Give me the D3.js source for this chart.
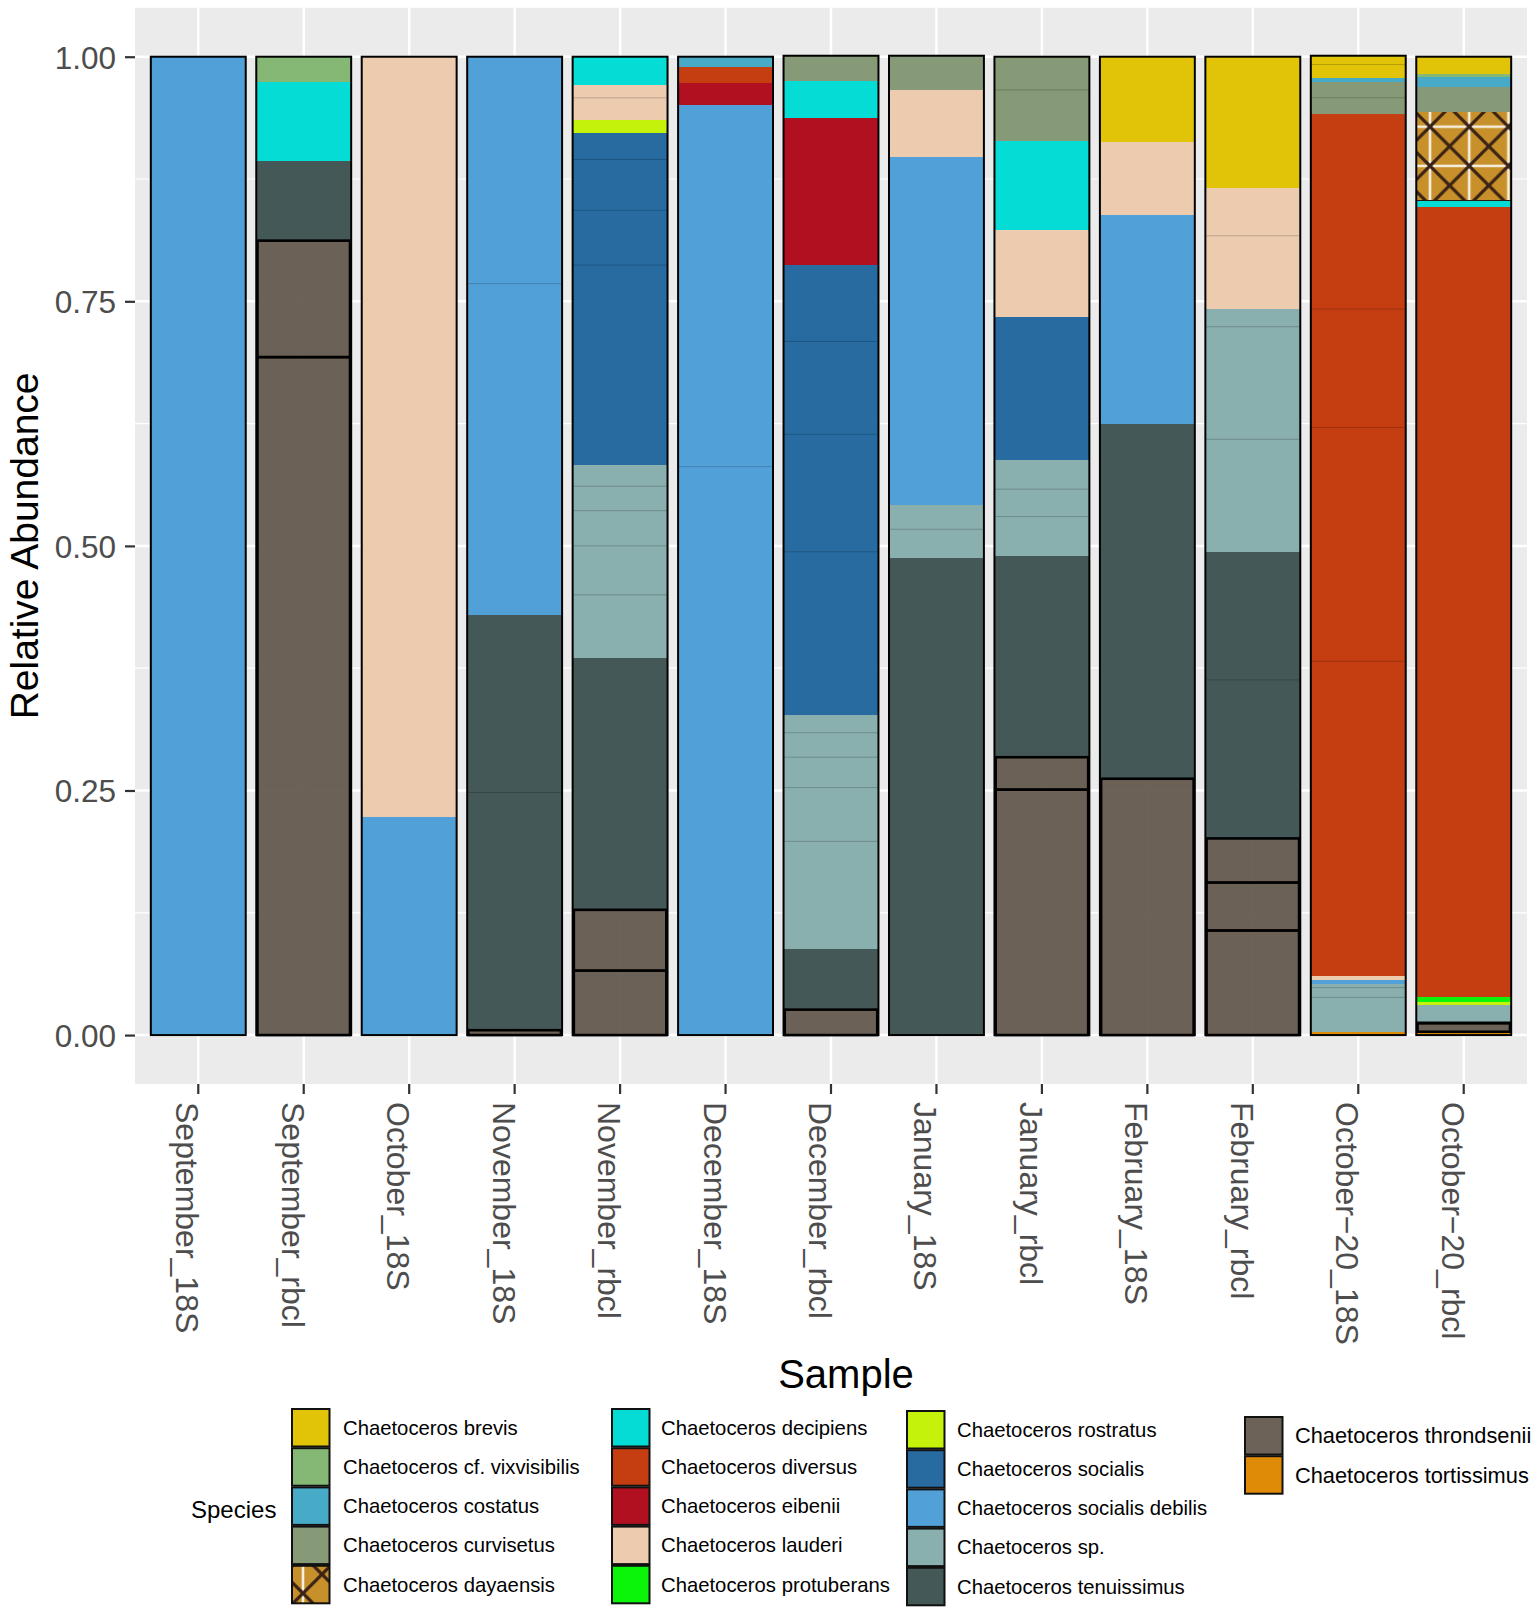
<!DOCTYPE html>
<html lang="en">
<head>
<meta charset="UTF-8">
<title>Chaetoceros relative abundance</title>
<script src="https://d3js.org/d3.v7.min.js"></script>
<style>
  body { margin: 0; background: #fff; }
  svg text { font-family: "Liberation Sans", Arial, sans-serif; }
</style>
</head>
<body>
<div id="chart"></div>
<script>
const samples = ["September_18S", "September_rbcl", "October_18S", "November_18S", "November_rbcl",
  "December_18S", "December_rbcl", "January_18S", "January_rbcl", "February_18S", "February_rbcl",
  "October\u221220_18S", "October\u221220_rbcl"];

const speciesNames = ["Chaetoceros brevis", "Chaetoceros cf. vixvisibilis", "Chaetoceros costatus",
  "Chaetoceros curvisetus", "Chaetoceros dayaensis", "Chaetoceros decipiens", "Chaetoceros diversus",
  "Chaetoceros eibenii", "Chaetoceros lauderi", "Chaetoceros protuberans", "Chaetoceros rostratus",
  "Chaetoceros socialis", "Chaetoceros socialis debilis", "Chaetoceros sp.", "Chaetoceros tenuissimus",
  "Chaetoceros throndsenii", "Chaetoceros tortissimus"];

const speciesColors = ["#E1C408", "#86B875", "#47AAC6", "#869A78", "#C8902B", "#05DCD6", "#C53E12",
  "#B11021", "#ECCBAF", "#0BF50B", "#C5F20A", "#276BA1", "#52A0D8", "#89AFAE", "#445857",
  "#615549", "#E08B08"];

const yTicks = [0, 0.25, 0.5, 0.75, 1];
const yMinor = [0.125, 0.375, 0.625, 0.875];

// relative abundance per sample (same order as samples); lists hold the ASV pieces, top to bottom
const brevis       = [0, 0, 0, 0, 0, 0, 0, 0, 0, 0.087, 0.134, [0.009, 0.014], 0.018];
const vixvisibilis = [0, 0.026, 0, 0, 0, 0, 0, 0, 0, 0, 0, 0, 0.003];
const costatus     = [0, 0, 0, 0, 0, 0.010, 0, 0, 0, 0, 0, 0.004, 0.010];
const curvisetus   = [0, 0, 0, 0, 0, 0, 0.026, 0.035, [0.034, 0.052], 0, 0, [0.016, 0.017], 0.025];
const dayaensis    = [0, 0, 0, 0, 0, 0, 0, 0, 0, 0, 0, 0, 0.091];
const decipiens    = [0, 0.081, 0, 0, 0.029, 0, 0.038, 0, 0.091, 0, 0, 0, 0.007];
const diversus     = [0, 0, 0, 0, 0, 0.017, 0, 0, 0, 0, 0, [0.199, 0.121, 0.239, 0.3215], 0.807];
const eibenii      = [0, 0, 0, 0, 0, 0.022, 0.150, 0, 0, 0, 0, 0, 0];
const lauderi      = [0, 0, 0.7775, 0, [0.013, 0.023], 0, 0, 0.069, 0.089, 0.075, [0.049, 0.075], 0.004, 0];
const protuberans  = [0, 0, 0, 0, 0, 0, 0, 0, 0, 0, 0, 0, 0.005];
const rostratus    = [0, 0, 0, 0, 0.013, 0, 0, 0, 0, 0, 0, 0, 0.003];
const socialis     = [0, 0, 0, 0, [0.027, 0.052, 0.056, 0.204], 0, [0.078, 0.095, 0.120, 0.167], 0, 0.146, 0, 0, 0, 0];
const socDebilis   = [1.0, 0, 0.2225, [0.232, 0.339], 0, [0.370, 0.581], 0, 0.355, 0, 0.213, 0, 0.004, 0];
const spp          = [0, 0, 0, 0, [0.022, 0.025, 0.036, 0.050, 0.065], 0, [0.018, 0.025, 0.031, 0.055, 0.110],
                      [0.025, 0.029], [0.030, 0.028, 0.040], 0, [0.018, 0.115, 0.115], [0.004, 0.010, 0.035], 0.0167];
const tenuissimus  = [0, 0.081, 0, [0.181, 0.243], 0.257, 0, 0.062, 0.488, 0.206, 0.363, [0.131, 0.162], 0, 0.0023];
const throndsenii  = [0, [0.119, 0.693], 0, 0.005, [0.062, 0.066], 0, 0.026, 0, [0.033, 0.251], 0.262,
                      [0.045, 0.049, 0.107], 0, 0.0086];
const tortissimus  = [0, 0, 0, 0, 0, 0, 0, 0, 0, 0, 0, 0.0035, 0.0034];

const speciesValues = [brevis, vixvisibilis, costatus, curvisetus, dayaensis, decipiens, diversus, eibenii,
  lauderi, protuberans, rostratus, socialis, socDebilis, spp, tenuissimus, throndsenii, tortissimus];

const DAYA = 4, THRON = 15;

const width = 1535, height = 1615;
const panel = {left: 135, right: 1527, top: 7.8, bottom: 1084};

const svg = d3.select("#chart").append("svg")
  .attr("width", width)
  .attr("height", height);

// hatch for dayaensis
const defs = svg.append("defs");
function hatch(id, px, py, s, horiz) {
  const p = defs.append("pattern")
    .attr("id", id)
    .attr("patternUnits", "userSpaceOnUse")
    .attr("x", px).attr("y", py)
    .attr("width", s).attr("height", s);
  p.append("rect").attr("width", s).attr("height", s).attr("fill", "#C8902B");
  p.append("line").attr("x1", s / 2).attr("x2", s / 2).attr("y1", 0).attr("y2", s)
    .attr("stroke", "#F6EFE2").attr("stroke-width", 2.6);
  if (horiz) {
    p.append("line").attr("x1", 0).attr("x2", s).attr("y1", s / 2).attr("y2", s / 2)
      .attr("stroke", "#F6EFE2").attr("stroke-width", 2.6);
  }
  p.append("path").attr("d", `M0,0L${s},${s}M${s},0L0,${s}`)
    .attr("stroke", "#3A2214").attr("stroke-width", 3.2).attr("stroke-linecap", "square");
}
hatch("daya", 1430 - 19.6, 126.7 - 19.6, 39.2, true);
hatch("dayaKey", 303 - 19, 1585.5 - 19, 38, false);

const x = d3.scaleBand()
  .domain(samples)
  .range([panel.left, panel.right])
  .paddingInner(0.1)
  .paddingOuter(0.15);

const y = d3.scaleLinear()
  .domain([-0.05, 1.05])
  .range([panel.bottom, panel.top]);

// panel + grid
svg.append("rect")
  .attr("x", panel.left).attr("y", panel.top)
  .attr("width", panel.right - panel.left).attr("height", panel.bottom - panel.top)
  .attr("fill", "#EBEBEB");

svg.append("g").selectAll("line")
  .data(yMinor)
  .join("line")
  .attr("x1", panel.left).attr("x2", panel.right)
  .attr("y1", d => y(d)).attr("y2", d => y(d))
  .attr("stroke", "#fff").attr("stroke-width", 1.2);

svg.append("g").selectAll("line")
  .data(yTicks)
  .join("line")
  .attr("x1", panel.left).attr("x2", panel.right)
  .attr("y1", d => y(d)).attr("y2", d => y(d))
  .attr("stroke", "#fff").attr("stroke-width", 2.5);

svg.append("g").selectAll("line")
  .data(samples)
  .join("line")
  .attr("x1", d => x(d) + x.bandwidth() / 2).attr("x2", d => x(d) + x.bandwidth() / 2)
  .attr("y1", panel.top).attr("y2", panel.bottom)
  .attr("stroke", "#fff").attr("stroke-width", 2.5);

// stack pieces from the bottom up, last species at the bottom
const pieces = [];
const totals = [];
samples.forEach((s, i) => {
  let acc = 0;
  for (let k = speciesNames.length - 1; k >= 0; k--) {
    const v = speciesValues[k][i];
    const parts = Array.isArray(v) ? v : (v ? [v] : []);
    for (let j = parts.length - 1; j >= 0; j--) {
      pieces.push({sample: s, k, y0: acc, y1: acc + parts[j], inner: j > 0});
      acc += parts[j];
    }
  }
  totals.push(acc);
});

const bars = svg.append("g");

bars.selectAll("rect.piece")
  .data(pieces.filter(d => d.k !== THRON))
  .join("rect")
  .attr("class", "piece")
  .attr("x", d => x(d.sample))
  .attr("width", x.bandwidth())
  .attr("y", d => y(d.y1))
  .attr("height", d => y(d.y0) - y(d.y1))
  .attr("fill", d => d.k === DAYA ? "url(#daya)" : speciesColors[d.k])
  .attr("stroke", d => d.k === DAYA ? "#2a1a10" : "none")
  .attr("stroke-width", 1.2)
  .attr("shape-rendering", "crispEdges");

// faint seams between ASVs of one species
bars.selectAll("line.seam")
  .data(pieces.filter(d => d.inner && d.k !== THRON))
  .join("line")
  .attr("class", "seam")
  .attr("x1", d => x(d.sample)).attr("x2", d => x(d.sample) + x.bandwidth())
  .attr("y1", d => y(d.y1)).attr("y2", d => y(d.y1))
  .attr("stroke", d => d3.color(speciesColors[d.k]).darker(0.6))
  .attr("stroke-width", 1);

bars.selectAll("rect.thron")
  .data(pieces.filter(d => d.k === THRON))
  .join("rect")
  .attr("class", "thron")
  .attr("x", d => x(d.sample) + 1.2)
  .attr("width", x.bandwidth() - 2.4)
  .attr("y", d => y(d.y1))
  .attr("height", d => y(d.y0) - y(d.y1))
  .attr("fill", speciesColors[THRON])
  .attr("fill-opacity", 0.92)
  .attr("stroke", "#000")
  .attr("stroke-width", 2.6);

bars.selectAll("rect.outline")
  .data(samples)
  .join("rect")
  .attr("class", "outline")
  .attr("x", d => x(d))
  .attr("width", x.bandwidth())
  .attr("y", (d, i) => y(totals[i]))
  .attr("height", (d, i) => y(0) - y(totals[i]))
  .attr("fill", "none")
  .attr("stroke", "#000")
  .attr("stroke-width", 2);

// axes
const yAxis = svg.append("g")
  .attr("transform", `translate(${panel.left},0)`)
  .call(d3.axisLeft(y).tickValues(yTicks).tickFormat(d3.format(".2f")).tickSize(10).tickPadding(9));
yAxis.select(".domain").remove();
yAxis.selectAll("line").attr("stroke", "#333").attr("stroke-width", 2.2);
yAxis.selectAll("text")
  .attr("fill", "#4D4D4D")
  .style("font-size", "31.5px")
  .attr("dy", "0.36em");

const xAxis = svg.append("g")
  .attr("transform", `translate(0,${panel.bottom})`)
  .call(d3.axisBottom(x).tickSize(10).tickPadding(0));
xAxis.select(".domain").remove();
xAxis.selectAll("line").attr("stroke", "#333").attr("stroke-width", 2.2);
xAxis.selectAll("text")
  .attr("fill", "#4D4D4D")
  .style("font-size", "32px")
  .attr("transform", "translate(0,18) rotate(90)")
  .attr("x", 0)
  .attr("y", 22)
  .attr("dy", null)
  .style("text-anchor", "start");

// titles
svg.append("text")
  .attr("x", 846).attr("y", 1388)
  .attr("text-anchor", "middle")
  .style("font-size", "40px")
  .text("Sample");

svg.append("text")
  .attr("transform", `translate(38,${(panel.top + panel.bottom) / 2}) rotate(-90)`)
  .attr("text-anchor", "middle")
  .style("font-size", "39px")
  .text("Relative Abundance");

// legend
const keyX = [292, 612, 907, 1245];
const labelX = [343, 661, 957, 1295];
const colTop = [1409, 1409, 1411, 1417];
const labelSize = [20.3, 20.3, 20.3, 21.8];
const rowStep = 39.2, keySize = 37.5;

const legend = svg.append("g");
legend.append("text")
  .attr("x", 191).attr("y", 1517.5)
  .style("font-size", "24px")
  .text("Species");

const items = legend.selectAll("g.item")
  .data(speciesNames)
  .join("g")
  .attr("class", "item")
  .attr("transform", (d, i) => {
    const c = Math.floor(i / 5), r = i % 5;
    return `translate(0,${colTop[c] + r * rowStep})`;
  });

items.append("rect")
  .attr("x", (d, i) => keyX[Math.floor(i / 5)])
  .attr("width", keySize)
  .attr("height", keySize)
  .attr("fill", (d, i) => i === DAYA ? "url(#dayaKey)" : speciesColors[i])
  .attr("fill-opacity", (d, i) => i === THRON ? 0.92 : 1)
  .attr("stroke", "#111")
  .attr("stroke-width", 2);

items.append("text")
  .attr("x", (d, i) => labelX[Math.floor(i / 5)])
  .attr("y", keySize / 2)
  .attr("dy", "0.35em")
  .style("font-size", (d, i) => labelSize[Math.floor(i / 5)] + "px")
  .text(d => d);
</script>
</body>
</html>
